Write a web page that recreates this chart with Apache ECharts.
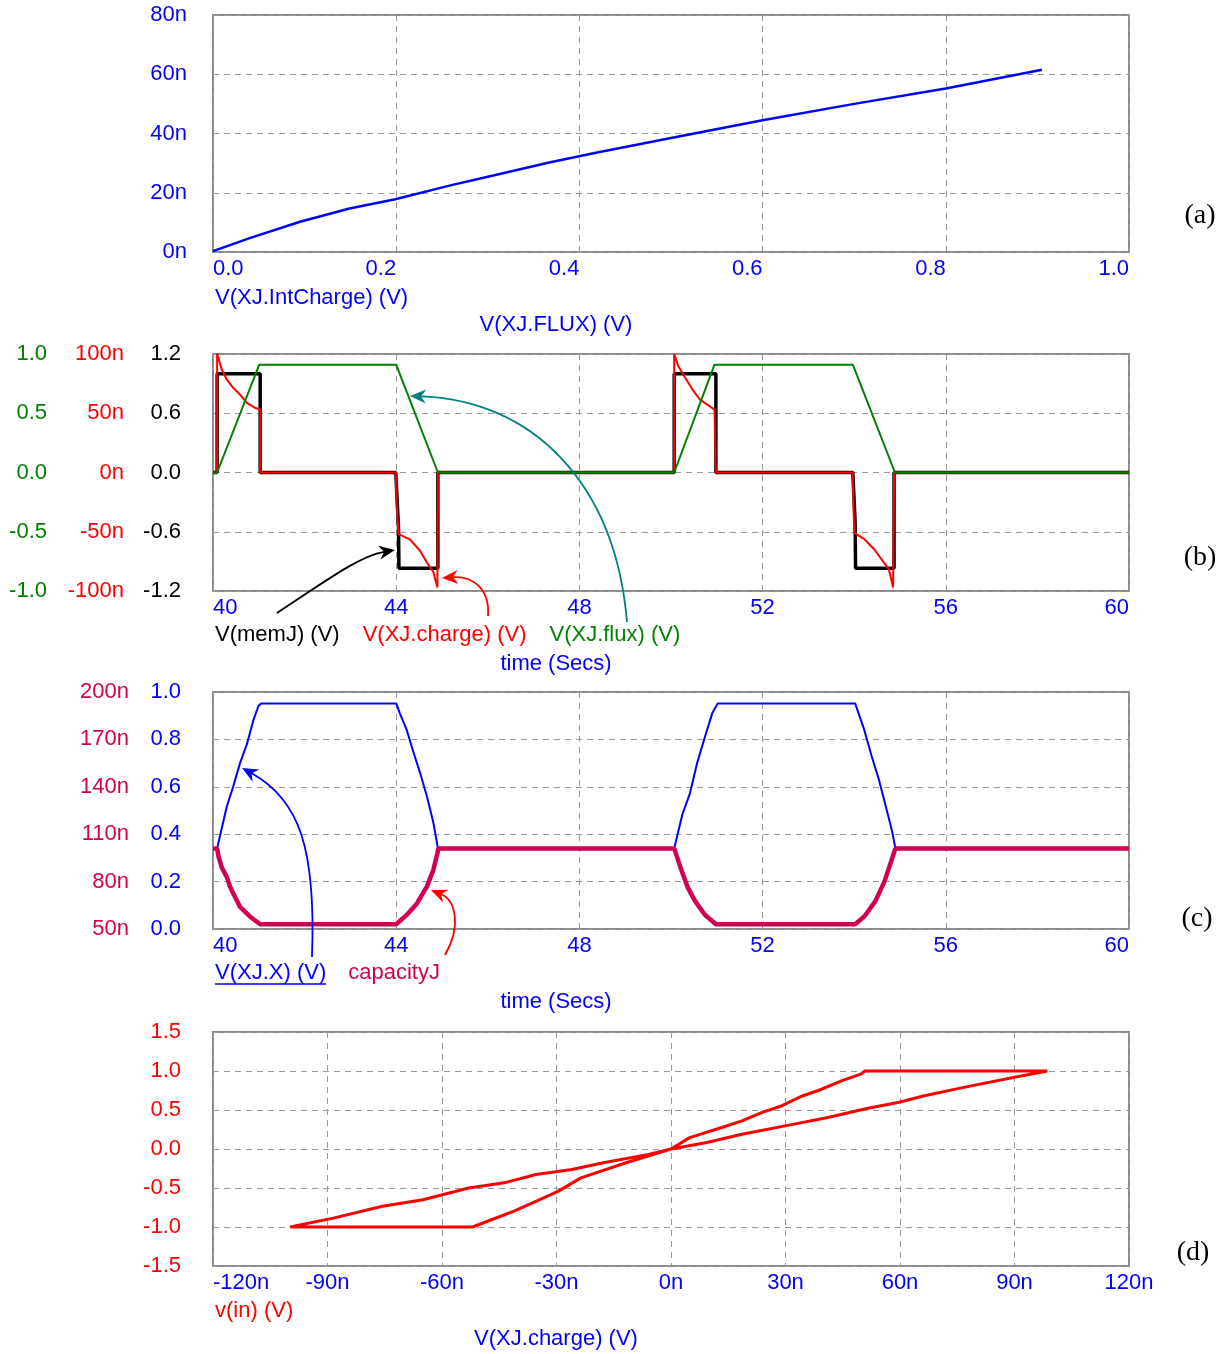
<!DOCTYPE html>
<html><head><meta charset="utf-8">
<script src="https://cdn.jsdelivr.net/npm/echarts@6/dist/echarts.min.js"></script>
<style>html,body{margin:0;padding:0;background:#fff}#c{width:1232px;height:1354px}</style>
</head><body><div id="c"></div>
<script>
// ---------------- DATA ----------------
// (a) V(XJ.IntCharge) [n] versus V(XJ.FLUX)
const fluxA      = [0, 0.04, 0.095, 0.149, 0.199, 0.258, 0.313, 0.367, 0.418, 0.5, 0.6, 0.7, 0.8, 0.905];
const intChargeA = [0.3, 4.7, 10.2, 14.7, 17.8, 22.4, 26.3, 30.2, 33.5, 38.5, 44.5, 50.0, 55.2, 61.5];

// (b) time traces [time s, value]
const memJ = [[40,0],[40.09,0],[40.09,1.0],[41.03,1.0],[41.03,0],[43.99,0],[44.05,-0.55],[44.06,-0.97],[44.91,-0.97],[44.91,0],
  [50.07,0],[50.07,1.0],[50.98,1.0],[50.98,0],[53.97,0],[54.02,-0.5],[54.03,-0.97],[54.87,-0.97],[54.87,0],[60,0]];
const chargeB = [[40,0],[40.09,0],[40.09,100.4],[40.19,87],[40.30,78.5],[40.44,71.5],[40.59,65.8],[40.74,58.8],[40.92,54.6],[41.03,53],[41.03,0],
  [43.99,0],[44.01,-28],[44.05,-52],[44.30,-56.5],[44.52,-66],[44.67,-76],[44.81,-84],[44.90,-97],[44.91,0],
  [50.07,0],[50.07,100],[50.16,89.7],[50.31,80],[50.47,70],[50.63,61.6],[50.84,56],[50.95,53],[50.98,53],[50.98,0],
  [53.97,0],[53.98,-20],[54.0,-51],[54.23,-56.5],[54.44,-65],[54.65,-76],[54.76,-82],[54.85,-97],[54.87,0],[60,0]];
const fluxB = [[40,0],[40.09,0],[41.01,0.91],[44.0,0.91],[44.91,0],[50.07,0],[50.95,0.91],[53.97,0.91],[54.89,0],[60,0]];

// (c) time traces
const xJ = [[40,0.34],[40.09,0.34],[40.15,0.39],[40.30,0.516],[40.44,0.60],[40.59,0.70],[40.74,0.78],[40.88,0.88],[40.99,0.94],[41.05,0.952],
  [44.0,0.952],[44.08,0.91],[44.23,0.84],[44.37,0.75],[44.52,0.66],[44.67,0.56],[44.81,0.45],[44.88,0.375],[44.91,0.34],
  [50.07,0.34],[50.25,0.485],[50.41,0.57],[50.57,0.70],[50.74,0.81],[50.9,0.91],[51.02,0.952],
  [54.02,0.952],[54.22,0.84],[54.38,0.73],[54.54,0.63],[54.7,0.51],[54.83,0.41],[54.9,0.34],[60,0.34]];
const capacityJ = [[40,101],[40.09,101],[40.12,96],[40.19,89],[40.30,83],[40.37,77],[40.44,72.6],[40.59,64],[40.81,57.8],[41.03,53],
  [44.0,53],[44.23,58.9],[44.45,66],[44.67,76.8],[44.81,87.3],[44.9,98],[44.92,101],
  [50.07,101],[50.21,88.7],[50.37,76],[50.53,67.5],[50.74,59],[50.98,53],
  [54.02,53],[54.22,57.9],[54.46,67.5],[54.66,80],[54.81,93],[54.9,101],[60,101]];

// (d) loop: [V(XJ.charge) n, v(in)]
const loopD = [[0,0],[9.1,0.08],[18.6,0.19],[30.2,0.30],[40.8,0.40],[51.3,0.52],[59.8,0.60],[66.1,0.68],[76.7,0.79],[90,0.92],[98.6,1.0],
  [50.8,1.0],[49.7,0.96],[45,0.88],[38.6,0.75],[34.4,0.68],[29.1,0.555],[23.9,0.47],[18.6,0.36],[13.3,0.275],[4.9,0.146],[0,0],
  [-11.8,-0.176],[-23.6,-0.37],[-29.5,-0.54],[-35.4,-0.67],[-41.3,-0.8],[-47.2,-0.91],[-52,-1.0],
  [-99.8,-1.0],[-88.5,-0.886],[-75.6,-0.735],[-65,-0.65],[-53,-0.5],[-43.7,-0.434],[-35.4,-0.327],[-26,-0.262],[-17.7,-0.176],[-5.9,-0.069],[0,0]];

// trace names
const namesA = ['V(XJ.IntCharge) (V)'];
const namesB = ['V(memJ) (V)', 'V(XJ.charge) (V)', 'V(XJ.flux) (V)'];
const namesC = ['V(XJ.X) (V)', 'capacityJ'];
const namesD = ['v(in) (V)'];
const panelTags = ['(a)', '(b)', '(c)', '(d)'];

// ---------------- STYLE ----------------
const BLUE='#0000ff', RED='#ff0000', GREEN='#008000', BLACK='#000000', CRIMSON='#d20050', TEAL='#008080';
const FONT = 'Arial, "Liberation Sans", sans-serif';
const SERIF = '"Times New Roman", "Liberation Serif", serif';
const FS = 22;

const chart = echarts.init(document.getElementById('c'));
const zip = (a, b) => a.map((v, i) => [v, b[i]]);
const f1 = v => (Math.abs(v) < 1e-9 ? 0 : v).toFixed(1);
const fn = v => Math.round(v) + 'n';
const split = show => ({show, lineStyle: {color: '#9a9a9a', width: 1, type: [6, 5]}});

function xAx(gi, min, max, interval, fmt, align, name, extraLabel) {
  return {
    type: 'value', gridIndex: gi, min, max, interval,
    axisLine: {show: false}, axisTick: {show: false}, splitLine: split(true),
    axisLabel: Object.assign({color: BLUE, fontSize: FS, fontFamily: FONT, formatter: fmt, margin: 6, align,
      alignMinLabel: 'left'}, extraLabel || {}),
    name, nameLocation: 'middle', nameGap: 62,
    nameTextStyle: {color: BLUE, fontSize: FS, fontFamily: FONT, padding: [0, 230, 0, 0]}
  };
}
function yAx(gi, min, max, interval, fmt, color, margin, offset, showSplit) {
  return {
    type: 'value', gridIndex: gi, min, max, interval, offset: offset || 0, position: 'left',
    axisLine: {show: false}, axisTick: {show: false}, splitLine: split(!!showSplit),
    axisLabel: {color, fontSize: FS, fontFamily: FONT, formatter: fmt, margin, padding: [5, 0, 0, 0]}
  };
}
const gridBase = {show: true, borderColor: '#8a8a8a', borderWidth: 2, backgroundColor: 'transparent', containLabel: false, outerBoundsMode: 'none'};

const line = (name, xi, yi, data, color, width) => ({
  type: 'line', name, xAxisIndex: xi, yAxisIndex: yi, data, symbol: 'none', showSymbol: false,
  lineStyle: {color, width}, itemStyle: {color}, silent: true, animation: false
});

const legBase = {icon: 'rect', itemWidth: 0, itemHeight: 0, itemGap: 18, selectedMode: false, padding: 0, left: 210,
  textStyle: {fontSize: FS, fontFamily: FONT}};
const legItem = (name, color) => ({name, textStyle: {color}});

function arrow(p0, c1, c2, p1, color) {
  const dx = p1[0]-c2[0], dy = p1[1]-c2[1], len = Math.hypot(dx, dy), ux = dx/len, uy = dy/len, nx = -uy, ny = ux;
  const L = 16, W = 7, N = 5;
  const bx = p1[0]-ux*L, by = p1[1]-uy*L;
  const notch = [p1[0]-ux*(L-N), p1[1]-uy*(L-N)];
  return [
    {type: 'bezierCurve', z: 100, silent: true,
     shape: {x1: p0[0], y1: p0[1], cpx1: c1[0], cpy1: c1[1], cpx2: c2[0], cpy2: c2[1], x2: notch[0], y2: notch[1]},
     style: {stroke: color, lineWidth: 1.8, fill: 'none'}},
    {type: 'polygon', z: 100, silent: true,
     shape: {points: [p1, [bx+nx*W, by+ny*W], notch, [bx-nx*W, by-ny*W]]}, style: {fill: color}}
  ];
}
const tag = (text, x, y) => ({type: 'text', x, y, silent: true, z: 100,
  style: {text, fill: '#000', font: '28px ' + SERIF, align: 'center', verticalAlign: 'middle'}});

const option = {
  animation: false,
  backgroundColor: '#ffffff',
  grid: [
    Object.assign({left: 213, top: 15, width: 916, height: 237}, gridBase),
    Object.assign({left: 213, top: 354, width: 916, height: 237}, gridBase),
    Object.assign({left: 213, top: 692, width: 916, height: 237}, gridBase),
    Object.assign({left: 213, top: 1032, width: 916, height: 234}, gridBase)
  ],
  xAxis: [
    xAx(0, 0, 1, 0.2, f1, 'right', 'V(XJ.FLUX) (V)'),
    xAx(1, 40, 60, 4, v => String(Math.round(v)), 'center', 'time (Secs)', {alignMaxLabel: 'right'}),
    xAx(2, 40, 60, 4, v => String(Math.round(v)), 'center', 'time (Secs)', {alignMaxLabel: 'right'}),
    xAx(3, -120, 120, 30, fn, 'center', 'V(XJ.charge) (V)')
  ],
  yAxis: [
    yAx(0, 0, 80, 20, fn, BLUE, 26, 0, true),
    yAx(1, -1.2, 1.2, 0.6, f1, BLACK, 32, 0, true),
    yAx(1, -100, 100, 50, fn, RED, 8, 81, false),
    yAx(1, -1, 1, 0.5, f1, GREEN, 8, 158, false),
    yAx(2, 0, 1, 0.2, f1, BLUE, 32, 0, true),
    yAx(2, 50, 200, 30, fn, CRIMSON, 8, 76, false),
    yAx(3, -1.5, 1.5, 0.5, f1, RED, 32, 0, true)
  ],
  legend: [
    Object.assign({}, legBase, {top: 287, data: [legItem(namesA[0], BLUE)]}),
    Object.assign({}, legBase, {top: 624, data: [legItem(namesB[0], BLACK), legItem(namesB[1], RED), legItem(namesB[2], GREEN)]}),
    Object.assign({}, legBase, {top: 962, itemGap: 17, data: [legItem(namesC[0], BLUE), legItem(namesC[1], CRIMSON)]}),
    Object.assign({}, legBase, {top: 1300, data: [legItem(namesD[0], RED)]})
  ],
  series: [
    line(namesA[0], 0, 0, zip(fluxA, intChargeA), BLUE, 2.5),
    line(namesB[0], 1, 1, memJ, BLACK, 3.5),
    line(namesB[1], 1, 2, chargeB, RED, 2),
    line(namesB[2], 1, 3, fluxB, GREEN, 2),
    line(namesC[0], 2, 4, xJ, BLUE, 2),
    line(namesC[1], 2, 5, capacityJ, CRIMSON, 4.5),
    line(namesD[0], 3, 6, loopD, RED, 3)
  ],
  graphic: [].concat(
    arrow([277, 613], [330, 578], [360, 556], [395, 550], BLACK),
    arrow([488, 616], [490, 588], [472, 576], [442, 578], RED),
    arrow([627, 622], [615, 480], [530, 400], [410, 396], TEAL),
    arrow([312, 957], [316, 850], [300, 800], [242, 768], BLUE),
    arrow([445, 955], [462, 925], [455, 900], [431, 890], RED),
    [{type: 'line', silent: true, z: 100, shape: {x1: 215, y1: 984, x2: 326, y2: 984}, style: {stroke: BLUE, lineWidth: 1.5}}],
    [tag(panelTags[0], 1200, 216), tag(panelTags[1], 1200, 558), tag(panelTags[2], 1197, 919), tag(panelTags[3], 1193, 1253)]
  )
};
chart.setOption(option);
</script></body></html>
